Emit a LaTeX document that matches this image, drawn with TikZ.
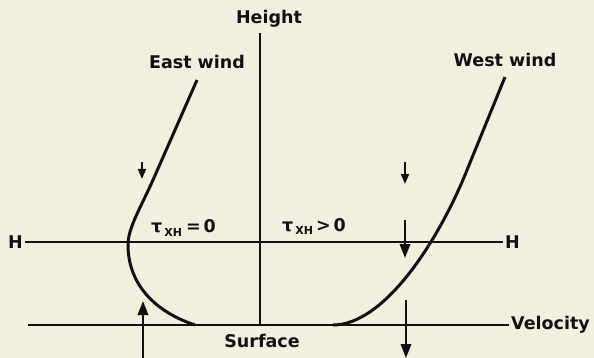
\documentclass[tikz,border=0pt]{standalone}
\usepackage{fontspec}
\setmainfont{DejaVu Sans}
\usepackage{tikz}
\usetikzlibrary{arrows.meta,positioning}
\definecolor{paper}{HTML}{F2EFDF}
\definecolor{ink}{HTML}{111111}

\begin{document}
\begin{tikzpicture}[
  x=1pt, y=-1pt,
  lbl/.style={font=\fontsize{17.5}{19}\selectfont\bfseries, text=ink, inner sep=2pt},
  axis/.style={line width=1.9pt, ink},
  wind/.style={line width=3pt, ink},
  flux/.style={-{Triangle[length=14pt, width=10.5pt]}, line width=1.9pt, ink},
  smallflux/.style={flux, -{Triangle[length=10pt, width=8pt]}}
]
\fill[paper] (0,0) rectangle (594,358);
\useasboundingbox (0,0) rectangle (594,358);

% axes
\node[lbl] (height) at (269,19) {Height};
\coordinate (origin) at (260,325);
\node[lbl, anchor=east] (hleft) at (25,242) {H};
\node[lbl, anchor=west] (hright) at (503,242) {H};
\coordinate (sleft) at (28,325);
\node[lbl, anchor=west] (velocity) at (509,325) {Velocity};
\node[lbl] (surface) at (262,341) {Surface};

\draw[axis] (260,33) -- (origin);
\draw[axis] (hleft) -- (hright);
\draw[axis] (sleft) -- (velocity);

% wind profiles
\node[lbl] (east) at (197,62) {East wind};
\node[lbl] (west) at (505,60) {West wind};
\coordinate (e1) at (197,80);
\coordinate (e2) at (153,180);
\coordinate (emin) at (128,245);
\coordinate (e3) at (195,325);
\coordinate (w1) at (505,77);
\coordinate (w2) at (465,175);
\coordinate (w3) at (333,325);

\draw[wind] (e1) -- (e2) .. controls (140,209) and (128,228) .. (emin)
  .. controls (128,280) and (150,310) .. (e3);
\draw[wind] (w1) -- (w2) .. controls (436,245) and (383,325) .. (w3);

% stress labels
\node[lbl, anchor=base west] (tauzero) at (149,233)
  {τ\kern2pt\raisebox{-0.4ex}{\fontsize{11}{12}\selectfont XH}\kern4pt=\kern3pt0};
\node[lbl, anchor=base west] (taupos) at (280,231)
  {τ\kern2pt\raisebox{-0.4ex}{\fontsize{11}{12}\selectfont XH}\kern3pt>\kern3pt0};

% momentum flux arrows
\coordinate (a1s) at (142,162);
\coordinate (a1e) at (142,179);
\coordinate (a2s) at (405,162);
\coordinate (a2e) at (405,184);
\coordinate (a3s) at (405,220);
\coordinate (a3e) at (405,258);
\coordinate (a4s) at (406,300);
\coordinate (a4e) at (406,358);
\coordinate (a5s) at (143,358);
\coordinate (a5e) at (143,301);
\draw[smallflux] (a1s) -- (a1e);
\draw[smallflux] (a2s) -- (a2e);
\draw[flux] (a3s) -- (a3e);
\draw[flux] (a4s) -- (a4e);
\draw[flux] (a5s) -- (a5e);
\end{tikzpicture}
\end{document}
